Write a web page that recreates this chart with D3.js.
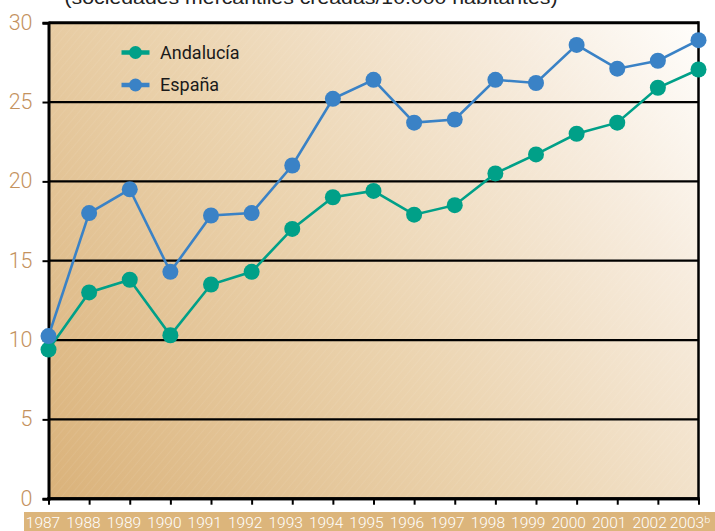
<!DOCTYPE html>
<html><head><meta charset="utf-8">
<script src="https://cdn.jsdelivr.net/npm/d3@7"></script>
<style>html,body{margin:0;padding:0;background:#fff;overflow:hidden}</style>
</head><body>
<script>
const years = ["1987","1988","1989","1990","1991","1992","1993","1994","1995","1996","1997","1998","1999","2000","2001","2002","2003"];
const yearLabels = ["1987","1988","1989","1990","1991","1992","1993","1994","1995","1996","1997","1998","1999","2000","2001","2002","2003ᵇ"];
const andalucia = [9.4,13.0,13.8,10.3,13.5,14.3,17.0,19.0,19.4,17.9,18.5,20.5,21.7,23.0,23.7,25.9,27.05];
const espana = [10.25,18.0,19.5,14.3,17.85,18.0,21.0,25.2,26.4,23.7,23.9,26.4,26.2,28.6,27.1,27.6,28.9];
const yTicks = [0,5,10,15,20,25,30];
const seriesNames = ["Andalucía","España"];
const seriesColors = ["#00a088","#3a82c6"];
const title = "(sociedades mercantiles creadas/10.000 habitantes)";

const W = 715, H = 531;
const svg = d3.select("body").append("svg").attr("width", W).attr("height", H);
const x = d3.scalePoint().domain(years).range([48.5, 698.5]);
const xl = d3.scalePoint().domain(years).range([42.5, 689.5]);
const y = d3.scaleLinear().domain([0,30]).range([498.7, 22.7]);

const defs = svg.append("defs");
const grad = defs.append("linearGradient").attr("id","bg").attr("gradientUnits","userSpaceOnUse")
  .attr("x1",48).attr("y1",499).attr("x2",700).attr("y2",22);
grad.append("stop").attr("offset","0").attr("stop-color","#dab27a");
grad.append("stop").attr("offset","0.45").attr("stop-color","#ebd3ae");
grad.append("stop").attr("offset","0.8").attr("stop-color","#f7ecde");
grad.append("stop").attr("offset","1").attr("stop-color","#fffefc");
const pat = defs.append("pattern").attr("id","hatch").attr("patternUnits","userSpaceOnUse")
  .attr("width",6).attr("height",6).attr("patternTransform","rotate(40)");
pat.append("line").attr("x1",0).attr("y1",0).attr("x2",0).attr("y2",6)
  .attr("stroke","#ffffff").attr("stroke-width",1).attr("stroke-opacity",0.12);

// title (partly cut at top, as in the reference)
svg.append("text").attr("x",311).attr("y",3.5).attr("text-anchor","middle")
  .attr("font-family","Liberation Sans, Arial, sans-serif").attr("font-size",19)
  .attr("fill","#222").attr("textLength",493).attr("lengthAdjust","spacingAndGlyphs").text(title);

// plot background
svg.append("rect").attr("x",x(years[0])).attr("y",y(30)).attr("width",x(years[years.length-1])-x(years[0])).attr("height",y(0)-y(30)).attr("fill","url(#bg)");
svg.append("rect").attr("x",x(years[0])).attr("y",y(30)).attr("width",x(years[years.length-1])-x(years[0])).attr("height",y(0)-y(30)).attr("fill","url(#hatch)");

// gridlines
svg.append("g").selectAll("line").data(yTicks).join("line")
  .attr("x1",x(years[0])).attr("x2",x(years[years.length-1]))
  .attr("y1",d=>y(d)).attr("y2",d=>y(d))
  .attr("stroke","#000").attr("stroke-width",d=>(d===0||d===30)?3:2.2);

// y axis
const yAxis = svg.append("g").attr("transform",`translate(${x(years[0])},0)`)
  .call(d3.axisLeft(y).tickValues(yTicks).tickSize(6).tickPadding(10));
yAxis.select(".domain").attr("stroke","#000").attr("stroke-width",3);
yAxis.selectAll(".tick line").attr("stroke","#000").attr("stroke-width",2);
yAxis.selectAll(".tick text").attr("fill","#c4925e").attr("font-size",21.5)
  .attr("font-family","Roboto, 'Noto Sans', sans-serif").attr("font-weight",300).attr("dy","0.3em");

// right border
svg.append("line").attr("x1",x(years[years.length-1])).attr("x2",x(years[years.length-1]))
  .attr("y1",y(30)-1.5).attr("y2",y(0)+1.5).attr("stroke","#000").attr("stroke-width",2.5);

// x axis ticks
const xAxis = svg.append("g").attr("transform",`translate(0,${y(0)})`)
  .call(d3.axisBottom(x).tickSize(6).tickFormat(""));
xAxis.select(".domain").attr("stroke","#000").attr("stroke-width",3).attr("d",`M${x(years[0])-1.5},0H${x(years[years.length-1])+1.2}`);
xAxis.selectAll(".tick line").attr("stroke","#000").attr("stroke-width",2);

// x label band
svg.append("rect").attr("x",24).attr("y",512).attr("width",W-24).attr("height",H-512).attr("fill","#dcb57b");
const xLab = svg.append("g").attr("transform","translate(0,512)")
  .call(d3.axisBottom(xl).tickSize(0).tickPadding(0).tickFormat((d,i)=>yearLabels[i]));
xLab.select(".domain").remove();
xLab.selectAll(".tick text").attr("fill","#fff").attr("font-size",15.5)
  .attr("font-family","Roboto, 'Noto Sans', sans-serif").attr("font-weight",300).attr("dy","1.0em");

// series
const series = [andalucia, espana];
const line = d3.line().x((d,i)=>x(years[i])).y(d=>y(d));
series.forEach((vals,si)=>{
  const g = svg.append("g");
  g.append("path").attr("d",line(vals)).attr("fill","none").attr("stroke",seriesColors[si]).attr("stroke-width",2.6);
  g.selectAll("circle").data(vals).join("circle")
    .attr("cx",(d,i)=>x(years[i])).attr("cy",d=>y(d)).attr("r",8).attr("fill",seriesColors[si]);
});

// legend
const leg = svg.append("g");
seriesNames.forEach((n,i)=>{
  const ly = 52.5 + i*32.5;
  leg.append("line").attr("x1",121.5).attr("x2",149.5).attr("y1",ly).attr("y2",ly).attr("stroke",seriesColors[i]).attr("stroke-width",4.5);
  leg.append("circle").attr("cx",135.5).attr("cy",ly).attr("r",6.5).attr("fill",seriesColors[i]);
  leg.append("text").attr("x",160).attr("y",ly).attr("dy","0.36em").attr("font-size",18)
    .attr("font-family","Roboto, 'Noto Sans', sans-serif").attr("fill","#1a1a1a").text(n);
});
</script>
</body></html>
